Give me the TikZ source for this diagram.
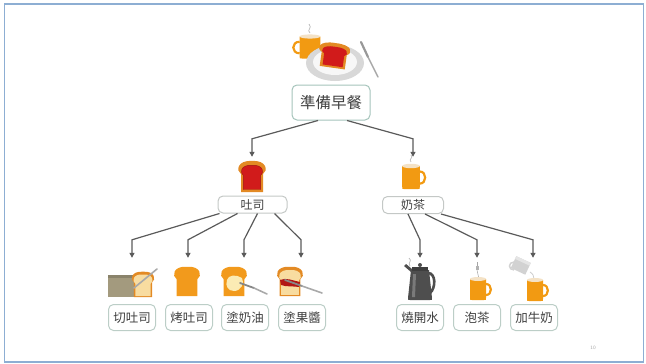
\documentclass[tikz,border=0pt]{standalone}
\usepackage{fontspec}
\newfontfamily\cjk{Noto Sans CJK TC}
\usetikzlibrary{arrows.meta,calc}

\definecolor{crust}{HTML}{E38A24}
\definecolor{toastorange}{HTML}{F29A1C}
\definecolor{jamred}{HTML}{D11B1B}
\definecolor{jamdark}{HTML}{9E1414}
\definecolor{mugorange}{HTML}{F29A12}
\definecolor{mugcream}{HTML}{F4E2C6}
\definecolor{breadpale}{HTML}{F8DCA0}
\definecolor{loafcol}{HTML}{A39A7E}
\definecolor{creamblob}{HTML}{FBEBB4}
\definecolor{knifecol}{HTML}{A9A9A9}
\definecolor{kettlecol}{HTML}{4E4E4E}
\definecolor{platecol}{HTML}{D8D8D8}
\definecolor{lineg}{HTML}{5A5A5A}
\definecolor{textg}{HTML}{404040}
\definecolor{boxroot}{HTML}{A5C4BB}
\definecolor{boxmid}{HTML}{C4C8C6}
\definecolor{boxleaf}{HTML}{BCCEC7}
\definecolor{framecol}{HTML}{8DAED3}

\tikzset{
  x=1pt, y=-1pt,
  rootbox/.style={draw=boxroot, line width=1pt, rounded corners=5pt, fill=white,
    minimum width=78pt, minimum height=35pt, inner sep=0pt,
    font=\cjk\fontsize{15.5}{16}\selectfont, text=textg},
  midbox/.style={draw=boxmid, line width=1pt, rounded corners=5pt, fill=white,
    minimum height=17pt, inner sep=0pt,
    font=\cjk\fontsize{12}{13}\selectfont, text=textg},
  leafbox/.style={draw=boxleaf, line width=1pt, rounded corners=5pt, fill=white,
    minimum width=47pt, minimum height=26pt, inner sep=0pt,
    font=\cjk\fontsize{12.5}{13}\selectfont, text=textg},
  iconbox/.style={inner sep=0pt, minimum width=26pt, minimum height=#1},
  conn/.style={draw=lineg, line width=1.2pt,
    -{Triangle[length=5pt,width=5pt]}},
  % bread slice silhouette, centred on the origin, y pointing down
  bread/.pic={\path[pic actions] (-11,16) -- (-11,-2)
      .. controls (-16,-5) and (-15,-16) .. (0,-15)
      .. controls (15,-16) and (16,-5) .. (11,-2) -- (11,16) -- cycle;},
  % mug with its handle on the right
  mug/.pic={
    \draw[mugorange, line width=2.2pt] (8,-5) .. controls (14.5,-5) and (14.5,6) .. (8,6);
    \fill[mugorange] (-8,-10) -- (-8,9) .. controls (-8,11) .. (-6,11) -- (6,11)
      .. controls (8,11) .. (8,9) -- (8,-10) -- cycle;
    \fill[mugcream] (0,-10) ellipse (8 and 2);
  },
}

\begin{document}
\begin{tikzpicture}
\useasboundingbox (0,0) rectangle (646,364);
\draw[framecol, line width=1.2pt] (4.5,4) rectangle (643.5,362);

% ---------- top: breakfast plate ----------
\node[iconbox=50pt, minimum width=80pt] (iroot) at (335,55) {};
\pic[xscale=-1.3, yscale=1.05] at (310,47) {mug};
\draw[gray!55, line width=0.7pt] (310,33) .. controls (306,30) and (313,28) .. (309,24);
\fill[platecol] (335,63) ellipse (29 and 18);
\fill[white!94!gray] (335,62) ellipse (22 and 13);
\pic[fill=crust, rotate=-8, xscale=1.15, yscale=0.8] at (334,55) {bread};
\pic[fill=jamred, rotate=-8, xscale=0.92, yscale=0.62] at (334,56) {bread};
\draw[knifecol!90!black, line width=2.2pt, line cap=round] (361,42) -- (368,57);
\draw[knifecol, line width=1.4pt, line cap=round] (368,57) -- (378,77);

\node[rootbox] (root) at (331,102.5) {準備早餐};

% ---------- level one ----------
\node[iconbox=36pt] (ijam) at (252,175) {};
\pic[fill=crust] at (252,176) {bread};
\pic[fill=jamred, draw=jamdark, line width=0.4pt, scale=0.78] at (252,177) {bread};
\node[midbox, minimum width=69pt] (toast) at (252.5,204.5) {吐司};

\node[iconbox=36pt] (imilk) at (413,175) {};
\draw[gray!55, line width=0.7pt] (411,162) .. controls (408,159) and (414,158) .. (411,155);
\pic[scale=1.1] at (411,177) {mug};
\node[midbox, minimum width=61pt] (tea) at (413,205) {奶茶};

% ---------- level two: toast steps ----------
\node[iconbox=42pt] (i1) at (132,279) {};
\fill[loafcol] (108,275) rectangle (134,297);
\fill[loafcol!85!black] (108,275) rectangle (134,278);
\pic[fill=crust, scale=0.82] at (143,284) {bread};
\pic[fill=breadpale, scale=0.7] at (143,285) {bread};
\draw[knifecol, line width=1.6pt, line cap=round] (134,288) -- (157,269);
\node[leafbox] (c1) at (132,317.5) {切吐司};

\node[iconbox=42pt] (i2) at (188,279) {};
\pic[fill=toastorange, scale=0.95] at (187,281) {bread};
\node[leafbox] (c2) at (189,317.5) {烤吐司};

\node[iconbox=42pt] (i3) at (244,279) {};
\pic[fill=toastorange, scale=0.95] at (234,281) {bread};
\fill[creamblob] (227,280) .. controls (228,275) and (236,274) .. (242,278)
  .. controls (245,283) and (241,291) .. (234,291) .. controls (228,291) and (225,286) .. (227,280) -- cycle;
\draw[knifecol!80!black, line width=1.8pt, line cap=round] (240,283) -- (254,288);
\draw[knifecol, line width=1.6pt, line cap=round] (254,288) -- (267,294);
\node[leafbox] (c3) at (245,317.5) {塗奶油};

\node[iconbox=42pt] (i4) at (301,279) {};
\pic[fill=crust, scale=0.95] at (290,281) {bread};
\pic[fill=breadpale, scale=0.8] at (290,282) {bread};
\fill[jamred!85!black] (280,280) .. controls (286,277) and (294,281) .. (300,282)
  -- (299,287) .. controls (294,286) and (286,287) .. (281,285) -- cycle;
\draw[knifecol!80!black, line width=1.8pt, line cap=round] (285,280) -- (302,286);
\draw[knifecol, line width=1.6pt, line cap=round] (302,286) -- (322,293);
\node[leafbox] (c4) at (302,317.5) {塗果醬};

% ---------- level two: tea steps ----------
\node[iconbox=42pt] (j1) at (420,279) {};
\draw[gray!55, line width=0.7pt] (410,266) .. controls (407,263) and (413,261) .. (409,258);
\draw[kettlecol, line width=2.6pt] (428,273) .. controls (436,273) and (436,288) .. (430,293);
\fill[kettlecol] (411,270) -- (429,270) -- (432,298) .. controls (432,300) .. (430,300)
  -- (410,300) .. controls (408,300) .. (408,298) -- cycle;
\fill[kettlecol!75!white] (413,274) -- (416,274) -- (415,297) -- (412,297) -- cycle;
\fill[kettlecol!80!black] (412,267) rectangle (428,271);
\fill[kettlecol] (420,265) circle (2);
\fill[kettlecol] (411,272) -- (404,266) -- (406,264) -- (412,269) -- cycle;
\node[leafbox] (d1) at (420,317.5) {燒開水};

\node[iconbox=42pt] (j2) at (477,279) {};
\draw[gray!70, line width=0.5pt] (477,262) -- (477,266);
\fill[gray!60] (475.5,266) rectangle (478.5,270);
\draw[gray!70, line width=0.5pt] (477,270) -- (479,279);
\pic[scale=1.0] at (478,289) {mug};
\node[leafbox] (d2) at (477,317.5) {泡茶};

\node[iconbox=42pt] (j3) at (533,279) {};
\fill[gray!35, rotate around={-25:(521,265)}] (513,259) rectangle (529,272);
\fill[gray!20, rotate around={-25:(521,265)}] (513,259) rectangle (529,262);
\draw[gray!35, line width=1.5pt] (514,262) .. controls (508,262) and (508,270) .. (514,270);
\draw[gray!40, line width=0.8pt] (530,272) .. controls (533,274) and (534,276) .. (534,279);
\pic[scale=1.0] at (535,290) {mug};
\node[leafbox] (d3) at (534,317.5) {加牛奶};

% ---------- connectors ----------
\draw[conn] ([xshift=-13pt]root.south) -- ([yshift=18pt]ijam.north) -- (ijam.north);
\draw[conn] ([xshift=16pt]root.south) -- ([yshift=18pt]imilk.north) -- (imilk.north);

\draw[conn] ([xshift=-33pt]toast.south) -- ([yshift=18pt]i1.north) -- (i1.north);
\draw[conn] ([xshift=-15pt]toast.south) -- ([yshift=18pt]i2.north) -- (i2.north);
\draw[conn] ([xshift=5pt]toast.south) -- ([yshift=18pt]i3.north) -- (i3.north);
\draw[conn] ([xshift=22pt]toast.south) -- ([yshift=18pt]i4.north) -- (i4.north);

\draw[conn] ([xshift=-5pt]tea.south) -- ([yshift=18pt]j1.north) -- (j1.north);
\draw[conn] ([xshift=12pt]tea.south) -- ([yshift=18pt]j2.north) -- (j2.north);
\draw[conn] ([xshift=28pt]tea.south) -- ([yshift=18pt]j3.north) -- (j3.north);

% page number
\node[text=gray!70, font=\sffamily\fontsize{5}{6}\selectfont] (pg) at (593,348) {10};
\end{tikzpicture}
\end{document}
